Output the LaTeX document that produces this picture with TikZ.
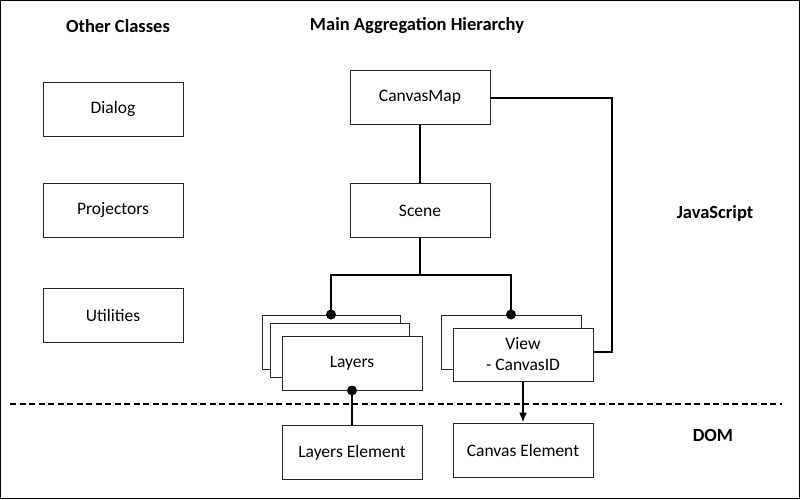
\documentclass[tikz,border=0pt]{standalone}
\usepackage{fontspec}
\setmainfont{Carlito}
\usepackage{tikz}
\usetikzlibrary{arrows.meta, positioning}

\tikzset{
    cls/.style = {draw=black!85, line width=1pt, fill=white, minimum width=140pt, minimum height=54pt, inner sep=0pt, font=\fontsize{17.5}{21}\selectfont},
    title/.style = {font=\fontsize{18.5}{22}\selectfont\bfseries},
    link/.style = {line width=2pt},
    aggdot/.style = {circle, fill, inner sep=0pt, minimum size=10pt},
}

\begin{document}
\begin{tikzpicture} [x=1pt, y=-1pt]
        \useasboundingbox (0,0) rectangle (800,499);
        \draw [line width=1.2pt] (0.6,0.6) rectangle (799.4,498.4);

        % headings
        \node (other) [title] at (118,26) {Other Classes};
        \node (main) [title] at (417,26) {Main Aggregation Hierarchy};
        \node (js) [title] at (715,213) {JavaScript};
        \node (dom) [title] at (713,435) {DOM};

        % other classes
        \node (dialog) [cls] at (113,109) {Dialog};
        \node (projectors) [cls] at (113,210) {Projectors};
        \node (utilities) [cls] at (113,315) {Utilities};

        % hierarchy
        \node (canvasmap) [cls] at (420,97.5) {CanvasMap};
        \node (scene) [cls, below = 58pt of canvasmap] {Scene};

        \node (layersback) [cls, minimum width=138pt] at (331,342) {};
        \node (layersmid) [cls, minimum width=139pt] at (339.5,350) {};
        \node (layers) [cls] at (352,363) {Layers};

        \node (viewback) [cls] at (511,342) {};
        \node (view) [cls, minimum height=53pt, align=center] at (523,354.5) {View\\- CanvasID};

        \node (layerselem) [cls] at (352,452.5) {Layers Element};
        \node (canvaselem) [cls] at (523,450) {Canvas Element};

        % separator
        \draw [line width=1.5pt, dash pattern=on 6pt off 3.5pt] (10,404) -- (782,404);

        % connectors
        \coordinate (split) at (420,275);
        \coordinate (bend) at (612,352);
        \draw [link] (canvasmap) -- (scene);
        \draw [link] (scene.south) -- (split) -| (layersback.north) node [aggdot] {};
        \draw [link] (split) -| (viewback.north) node [aggdot] {};
        \draw [link] (canvasmap.east) -| (bend) -- (bend -| view.east);
        \draw [line width=1.6pt] (layers.south) node [aggdot] {} -- (layerselem.north);
        \draw [line width=1.6pt, -{Latex[length=10pt, width=8pt]}] (view.south) -- (canvaselem.north);
    \end{tikzpicture}
\end{document}
